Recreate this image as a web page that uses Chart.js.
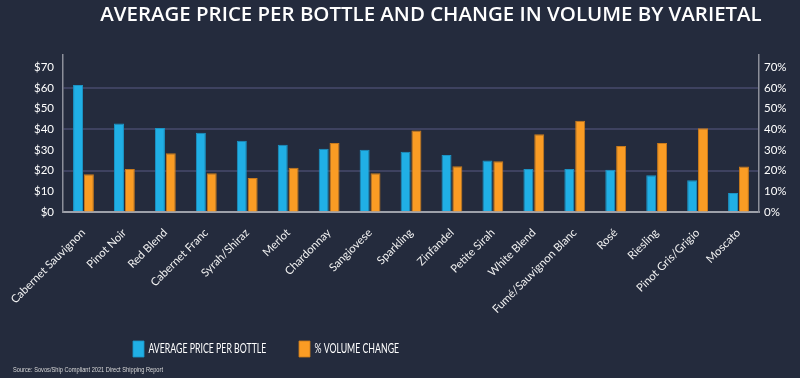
<!DOCTYPE html>
<html>
<head>
<meta charset="utf-8">
<script src="https://cdn.jsdelivr.net/npm/chart.js@4"></script>
<style>
  html, body { margin: 0; padding: 0; background: #242B3D; }
  #wrap { width: 800px; height: 378px; position: relative; }
</style>
</head>
<body>
<div id="wrap"><canvas id="c"></canvas></div>
<script>
const categories = ['Cabernet Sauvignon', 'Pinot Noir', 'Red Blend', 'Cabernet Franc', 'Syrah/Shiraz', 'Merlot', 'Chardonnay', 'Sangiovese', 'Sparkling', 'Zinfandel', 'Petite Sirah', 'White Blend', 'Fumé/Sauvignon Blanc', 'Rosé', 'Riesling', 'Pinot Gris/Grigio', 'Moscato'];
const avgPrice = [61.5, 42.8, 40.7, 38.4, 34.5, 32.6, 30.6, 30.1, 29.2, 27.6, 24.9, 20.8, 20.8, 20.4, 17.8, 15.4, 9.2];
const volumeChange = [18.3, 20.8, 28.5, 18.8, 16.4, 21.4, 33.4, 18.8, 39.5, 22.2, 24.6, 37.6, 44.2, 31.9, 33.4, 40.5, 22.0];
const tickValues = [0, 10, 20, 30, 40, 50, 60, 70];
const priceTickLabels = ['$0', '$10', '$20', '$30', '$40', '$50', '$60', '$70'];
const pctTickLabels = ['0%', '10%', '20%', '30%', '40%', '50%', '60%', '70%'];
const gridValues = [20, 40, 60];
const seriesNames = ['AVERAGE PRICE PER BOTTLE', '% VOLUME CHANGE'];
const titleText = 'AVERAGE PRICE PER BOTTLE AND CHANGE IN VOLUME BY VARIETAL';
const sourceText = 'Source: Sovos/Ship Compliant 2021 Direct Shipping Report';

const BLUE = '#20AFE5', ORANGE = '#FA9C24';

// text measuring helpers (for sizing/condensing fonts to the reference widths)
const mctx = document.createElement('canvas').getContext('2d');
function textW(font, s) { mctx.font = font; return mctx.measureText(s).width; }

const TITLE_FAMILY = "'Open Sans'";
const titleSize = +(19 * 662 / textW(`600 19px ${TITLE_FAMILY}`, titleText)).toFixed(2);

const LEG_FAMILY = 'Lato', LEG_SIZE = 13;
const legW1 = textW(`${LEG_SIZE}px ${LEG_FAMILY}`, seriesNames[0]);
const legSx = 118 / legW1;
const legBoxW = 11 / legSx;
const legPad = (299 - 133) / legSx - (legBoxW + LEG_SIZE / 2 + legW1);

const SRC_FAMILY = "'Liberation Sans'", SRC_SIZE = 7;
const srcSx = 150 / textW(`${SRC_SIZE}px ${SRC_FAMILY}`, sourceText);

const TICK_FAMILY = 'Lato';
const xTickSize = +(10 * 100 / textW(`10px ${TICK_FAMILY}`, categories[0])).toFixed(2);

function squish(box, x0, sx) {
  if (box._squished) return;
  const orig = box.draw.bind(box);
  box.draw = function (area) {
    const ctx = this.ctx;
    ctx.save();
    ctx.translate(x0, 0); ctx.scale(sx, 1); ctx.translate(-x0, 0);
    orig(area);
    ctx.restore();
  };
  box._squished = true;
}

const layoutTweaks = {
  id: 'layoutTweaks',
  afterLayout(chart) {
    const t = chart.titleBlock;
    t.left += 31; t.right += 31;
    const sub = chart.boxes.find(b => b !== t && b.constructor === t.constructor);
    if (sub) { sub.left = 13; sub.right = 13 + chart.width; squish(sub, 13, srcSx); }
    const lg = chart.legend;
    const pad = lg.options.labels.padding;
    const w = lg.right - lg.left, h = lg.bottom - lg.top;
    lg.left = 133 - pad; lg.right = lg.left + w;
    lg.top = 341 - pad; lg.bottom = lg.top + h;
    squish(lg, 133, legSx);
    chart.scales.x.bottom = chart.height;
  }
};

function fixTicks(scale) {
  scale.ticks = tickValues.map(v => ({ value: v }));
}

new Chart(document.getElementById('c'), {
  type: 'bar',
  data: {
    labels: categories,
    datasets: [
      { label: seriesNames[0], data: avgPrice, yAxisID: 'y', backgroundColor: BLUE, borderColor: '#1B93C4', borderWidth: 1 },
      { label: seriesNames[1], data: volumeChange, yAxisID: 'y1', backgroundColor: ORANGE, borderColor: '#C97A1C', borderWidth: 1 }
    ]
  },
  options: {
    responsive: true,
    maintainAspectRatio: false,
    animation: false,
    layout: { padding: 0 },
    datasets: { bar: { categoryPercentage: 0.53, barPercentage: 0.92 } },
    plugins: {
      tooltip: { enabled: false },
      title: {
        display: true, text: titleText, color: '#FFFFFF',
        font: { family: TITLE_FAMILY, size: titleSize, weight: '600', lineHeight: 1.2 },
        padding: { top: 2.5, bottom: 55 - 2.5 - titleSize * 1.2 }
      },
      subtitle: {
        display: true, text: sourceText, position: 'bottom', align: 'start', color: '#D8D8D8',
        font: { family: SRC_FAMILY, size: SRC_SIZE },
        padding: { top: 3, bottom: 4 }
      },
      legend: {
        position: 'bottom', align: 'start',
        labels: {
          color: '#FFFFFF', boxWidth: legBoxW, boxHeight: 16, padding: legPad,
          font: { family: LEG_FAMILY, size: LEG_SIZE }
        }
      }
    },
    scales: {
      x: {
        grid: { display: false },
        border: { display: true, color: '#9EA1AA', width: 2 },
        ticks: { color: '#F0F0F0', minRotation: 45, maxRotation: 45, autoSkip: false, padding: 6,
                 font: { family: TICK_FAMILY, size: xTickSize } },
        afterFit(s) {
          const ch = s.chart;
          const used = ch.boxes.filter(b => b.position === 'bottom' && b !== s).reduce((a, b) => a + b.height, 0);
          s.height = ch.height - 212 - used;
        }
      },
      y: {
        position: 'left', min: 0, max: 76,
        afterBuildTicks: fixTicks,
        grid: { drawTicks: false, lineWidth: 2,
                color: c => gridValues.includes(c.tick.value) ? '#3E4260' : 'rgba(0,0,0,0)' },
        border: { display: true, color: '#8C8F9A', width: 1.5 },
        ticks: { color: '#FFFFFF', padding: 9, font: { family: 'Lato, sans-serif', size: 11.5 },
                 callback: (v) => priceTickLabels[tickValues.indexOf(v)] },
        afterFit(s) { s.width = 63; }
      },
      y1: {
        position: 'right', min: 0, max: 76,
        afterBuildTicks: fixTicks,
        grid: { drawOnChartArea: false, drawTicks: false },
        border: { display: true, color: '#8C8F9A', width: 1.5 },
        ticks: { color: '#FFFFFF', padding: 5, font: { family: 'Lato, sans-serif', size: 11.5 },
                 callback: (v) => pctTickLabels[tickValues.indexOf(v)] },
        afterFit(s) { s.width = 41; }
      }
    }
  },
  plugins: [layoutTweaks]
});
</script>
</body>
</html>
